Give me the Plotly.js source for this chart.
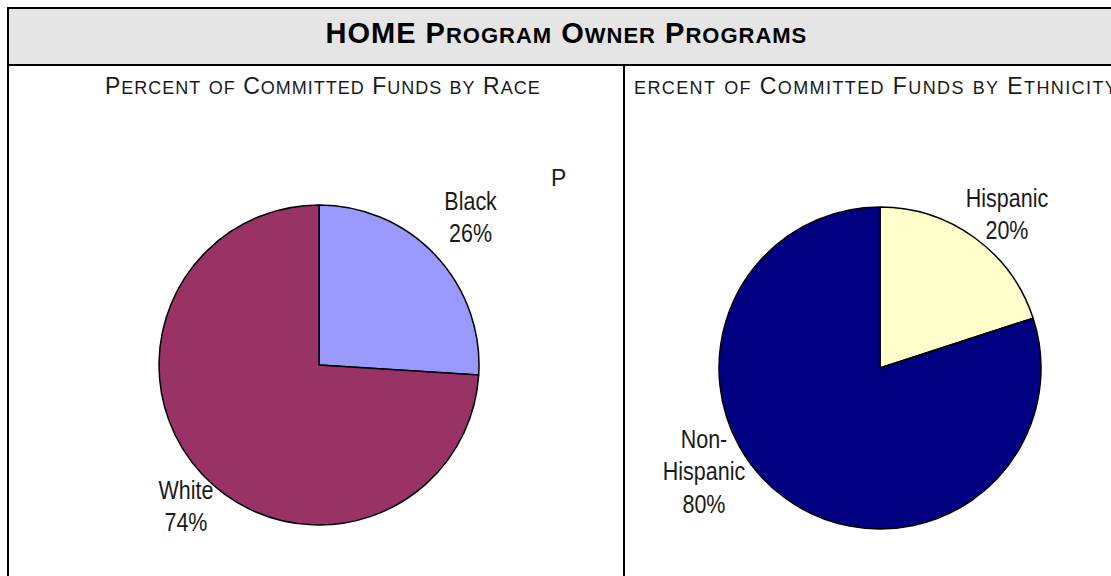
<!DOCTYPE html>
<html>
<head>
<meta charset="utf-8">
<script src="https://cdn.plot.ly/plotly-3.0.1.min.js"></script>
<style>html,body{margin:0;padding:0;background:#fff;}#chart{width:1111px;height:576px;}</style>
</head>
<body>
<div id="chart"></div>
<script>
// Data
const raceLabels = ["Black", "White"];
const raceValues = [26, 74];
const raceColors = ["#9999ff", "#993366"];
const ethLabels = ["Hispanic", "Non-Hispanic"];
const ethValues = [20, 80];
const ethColors = ["#ffffcc", "#000080"];
const mainTitle = "HOME Program Owner Programs";
const raceTitle = "Percent of Committed Funds by Race";
const ethTitle = "ercent of Committed Funds by Ethnicity";

const W = 1111, H = 576;
const px = x => x / W;
const py = y => (H - y) / H;

function pct(vals, i) {
  const t = vals.reduce((a, b) => a + b, 0);
  return Math.round(vals[i] / t * 100) + "%";
}

// manual small caps: uppercase letters at full size, lowercase as smaller capitals
function smallCaps(str, small) {
  let out = "", run = "";
  const flush = () => { if (run) { out += "<span style=\"font-size:" + small + "px\">" + run.toUpperCase() + "</span>"; run = ""; } };
  for (const ch of str) {
    if (ch >= "a" && ch <= "z") run += ch;
    else { flush(); out += ch; }
  }
  flush();
  return out;
}

const sans = "'Liberation Sans', Arial, sans-serif";

const traces = [
  {
    type: "pie", labels: raceLabels, values: raceValues, sort: false, direction: "clockwise",
    marker: {colors: raceColors, line: {color: "#000", width: 1.5}},
    textinfo: "none", hoverinfo: "none", showlegend: false,
    domain: {x: [px(159), px(479)], y: [py(525), py(205)]}
  },
  {
    type: "pie", labels: ethLabels, values: ethValues, sort: false, direction: "clockwise",
    marker: {colors: ethColors, line: {color: "#000", width: 1.5}},
    textinfo: "none", hoverinfo: "none", showlegend: false,
    domain: {x: [px(719), px(1041)], y: [py(529), py(207)]}
  }
];

const lblFont = {family: sans, size: 25, color: "#1a1a1a"};
function ann(text, x, y, font, extra) {
  return Object.assign({text: text, x: px(x), y: py(y), xref: "paper", yref: "paper",
    showarrow: false, xanchor: "center", yanchor: "middle", font: font}, extra || {});
}

const annotations = [
  ann(smallCaps(mainTitle, 22), 566, 33, {family: sans, size: 29, color: "#000", weight: 700}),
  ann(smallCaps(raceTitle, 18), 323, 86, {family: sans, size: 23, color: "#1a1a1a"}),
  ann(smallCaps(ethTitle, 18), 634, 86, {family: sans, size: 23, color: "#1a1a1a"}, {xanchor: "left"}),
  ann("P", 558, 178, {family: sans, size: 23, color: "#1a1a1a"}),
  ann(raceLabels[0] + "<br>" + pct(raceValues, 0), 471, 217, lblFont),
  ann(raceLabels[1] + "<br>" + pct(raceValues, 1), 186, 506, lblFont),
  ann(ethLabels[0] + "<br>" + pct(ethValues, 0), 1007, 214, lblFont),
  ann("Non-<br>Hispanic<br>" + pct(ethValues, 1), 704, 471, lblFont)
];

const ln = {color: "#000", width: 2};
const shapes = [
  {type: "rect", xref: "paper", yref: "paper", x0: px(8), x1: px(1112), y0: py(9), y1: py(65), fillcolor: "#e5e5e5", line: {width: 0}, layer: "below"},
  {type: "line", xref: "paper", yref: "paper", x0: px(7), x1: px(1112), y0: py(8), y1: py(8), line: ln},
  {type: "line", xref: "paper", yref: "paper", x0: px(8), x1: px(8), y0: py(7), y1: py(577), line: ln},
  {type: "line", xref: "paper", yref: "paper", x0: px(8), x1: px(1112), y0: py(65), y1: py(65), line: ln},
  {type: "line", xref: "paper", yref: "paper", x0: px(624), x1: px(624), y0: py(65), y1: py(577), line: ln}
];

const layout = {
  width: W, height: H,
  margin: {l: 0, r: 0, t: 0, b: 0},
  paper_bgcolor: "#fff", plot_bgcolor: "#fff",
  annotations: annotations, shapes: shapes, showlegend: false
};

Plotly.newPlot("chart", traces, layout, {displayModeBar: false, staticPlot: true}).then(gd => {
  const svgLeft = gd.getBoundingClientRect().left;
  gd.querySelectorAll("g.annotation").forEach(g => {
    const i = +g.getAttribute("data-index");
    const t = g.querySelector("text.annotation-text");
    if (!t) return;
    if (i === 0 || i === 1) t.style.letterSpacing = "1px";
    else if (i === 2) {
      t.style.letterSpacing = "1.4px";
      const left = t.getBoundingClientRect().left - svgLeft;
      t.style.transform = "translate(" + (634 - left) + "px,0px)";
    }
    else if (i >= 4) {
      t.style.transformBox = "fill-box";
      t.style.transformOrigin = "center";
      t.style.transform = "scaleX(0.86)";
    }
  });
});
</script>
</body>
</html>
